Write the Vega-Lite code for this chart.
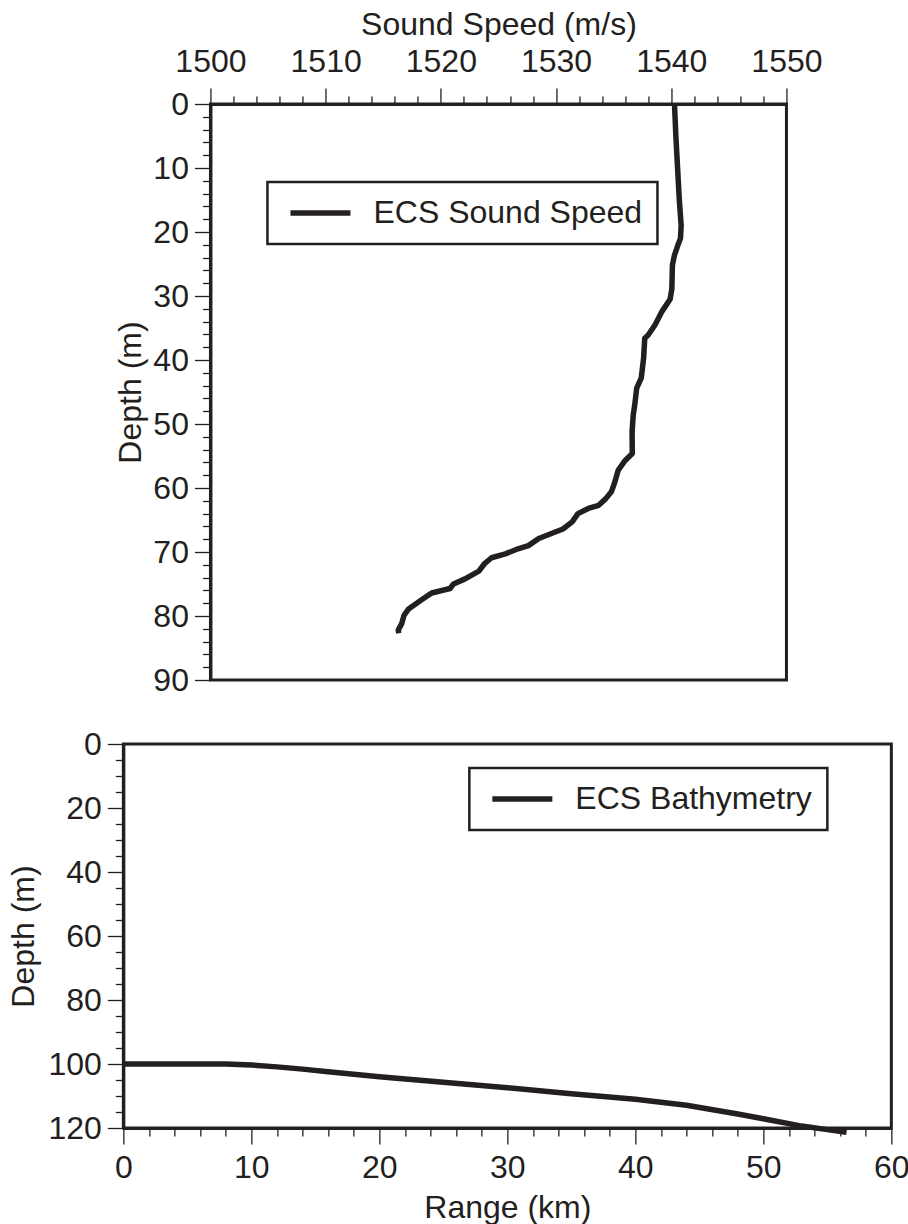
{
  "$schema": "https://vega.github.io/schema/vega-lite/v6.json",
  "padding": 0,
  "background": "white",
  "config": {
    "font": "Liberation Sans",
    "view": {"stroke": "#231f20", "strokeWidth": 3},
    "axis": {
      "labelFont": "Liberation Sans",
      "titleFont": "Liberation Sans",
      "labelFontSize": 32,
      "titleFontSize": 32,
      "titleFontWeight": "normal",
      "labelColor": "#231f20",
      "titleColor": "#231f20",
      "domainColor": "#231f20",
      "domainWidth": 3,
      "tickColor": "#231f20",
      "tickWidth": 1.3,
      "grid": false,
      "labelOverlap": false,
      "labelFlush": false,
      "labelBound": false,
      "format": "d"
    },
    "legend": {
      "title": null,
      "orient": "none",
      "symbolType": "M-3,0H3",
      "symbolSize": 400,
      "symbolStrokeWidth": 5.5,
      "labelFont": "Liberation Sans",
      "labelFontSize": 32,
      "labelColor": "#231f20",
      "labelLimit": 1000,
      "labelOffset": 37,
      "padding": 15,
      "symbolOffset": 22,
      "strokeColor": "#231f20",
      "strokeWidth": 2.5,
      "fillColor": "white"
    }
  },
  "vconcat": [
    {
      "width": 576,
      "height": 576,
      "data": {"values": [
        {"depth": 0, "speed": 1540.28, "series": "ECS Sound Speed"},
        {"depth": 5, "speed": 1540.4, "series": "ECS Sound Speed"},
        {"depth": 10, "speed": 1540.55, "series": "ECS Sound Speed"},
        {"depth": 15, "speed": 1540.7, "series": "ECS Sound Speed"},
        {"depth": 19, "speed": 1540.86, "series": "ECS Sound Speed"},
        {"depth": 21.0, "speed": 1540.8, "series": "ECS Sound Speed"},
        {"depth": 22.2, "speed": 1540.55, "series": "ECS Sound Speed"},
        {"depth": 23.6, "speed": 1540.28, "series": "ECS Sound Speed"},
        {"depth": 25.2, "speed": 1540.1, "series": "ECS Sound Speed"},
        {"depth": 28.9, "speed": 1540.05, "series": "ECS Sound Speed"},
        {"depth": 30.5, "speed": 1539.9, "series": "ECS Sound Speed"},
        {"depth": 32.4, "speed": 1539.2, "series": "ECS Sound Speed"},
        {"depth": 34.5, "speed": 1538.6, "series": "ECS Sound Speed"},
        {"depth": 36.1, "speed": 1538.0, "series": "ECS Sound Speed"},
        {"depth": 36.6, "speed": 1537.7, "series": "ECS Sound Speed"},
        {"depth": 39.7, "speed": 1537.6, "series": "ECS Sound Speed"},
        {"depth": 42.8, "speed": 1537.4, "series": "ECS Sound Speed"},
        {"depth": 44.4, "speed": 1537.0, "series": "ECS Sound Speed"},
        {"depth": 46.6, "speed": 1536.86, "series": "ECS Sound Speed"},
        {"depth": 48.6, "speed": 1536.7, "series": "ECS Sound Speed"},
        {"depth": 51.25, "speed": 1536.6, "series": "ECS Sound Speed"},
        {"depth": 54.6, "speed": 1536.62, "series": "ECS Sound Speed"},
        {"depth": 55.7, "speed": 1536.0, "series": "ECS Sound Speed"},
        {"depth": 57.2, "speed": 1535.4, "series": "ECS Sound Speed"},
        {"depth": 59.1, "speed": 1535.1, "series": "ECS Sound Speed"},
        {"depth": 60.6, "speed": 1534.8, "series": "ECS Sound Speed"},
        {"depth": 61.7, "speed": 1534.3, "series": "ECS Sound Speed"},
        {"depth": 62.7, "speed": 1533.7, "series": "ECS Sound Speed"},
        {"depth": 63.2, "speed": 1532.8, "series": "ECS Sound Speed"},
        {"depth": 64.0, "speed": 1531.9, "series": "ECS Sound Speed"},
        {"depth": 65.3, "speed": 1531.4, "series": "ECS Sound Speed"},
        {"depth": 66.4, "speed": 1530.6, "series": "ECS Sound Speed"},
        {"depth": 67.1, "speed": 1529.6, "series": "ECS Sound Speed"},
        {"depth": 67.9, "speed": 1528.5, "series": "ECS Sound Speed"},
        {"depth": 69.0, "speed": 1527.6, "series": "ECS Sound Speed"},
        {"depth": 69.5, "speed": 1526.7, "series": "ECS Sound Speed"},
        {"depth": 70.3, "speed": 1525.6, "series": "ECS Sound Speed"},
        {"depth": 70.9, "speed": 1524.4, "series": "ECS Sound Speed"},
        {"depth": 71.8, "speed": 1523.8, "series": "ECS Sound Speed"},
        {"depth": 73.0, "speed": 1523.3, "series": "ECS Sound Speed"},
        {"depth": 74.2, "speed": 1522.1, "series": "ECS Sound Speed"},
        {"depth": 75.0, "speed": 1521.1, "series": "ECS Sound Speed"},
        {"depth": 75.7, "speed": 1520.8, "series": "ECS Sound Speed"},
        {"depth": 76.4, "speed": 1519.2, "series": "ECS Sound Speed"},
        {"depth": 77.5, "speed": 1518.3, "series": "ECS Sound Speed"},
        {"depth": 78.9, "speed": 1517.2, "series": "ECS Sound Speed"},
        {"depth": 79.9, "speed": 1516.8, "series": "ECS Sound Speed"},
        {"depth": 81.2, "speed": 1516.6, "series": "ECS Sound Speed"},
        {"depth": 82.2, "speed": 1516.3, "series": "ECS Sound Speed"},
        {"depth": 82.7, "speed": 1516.35, "series": "ECS Sound Speed"}
      ]},
      "mark": {"type": "line", "strokeWidth": 5.5, "strokeJoin": "round"},
      "encoding": {
        "x": {
          "field": "speed", "type": "quantitative",
          "scale": {"domain": [1500, 1550], "nice": false, "zero": false},
          "axis": {
            "orient": "top",
            "title": "Sound Speed (m/s)",
            "values": [1500,1502,1504,1506,1508,1510,1512,1514,1516,1518,1520,1522,1524,1526,1528,1530,1532,1534,1536,1538,1540,1542,1544,1546,1548,1550],
            "labelExpr": "datum.value % 10 === 0 ? datum.label : ''",
            "tickSize": {"condition": {"test": "datum.value % 10 === 0", "value": 16}, "value": 8},
            "labelPadding": 10,
            "titleX": 288,
            "titleY": -70,
            "titleAlign": "center",
            "titleBaseline": "alphabetic",
            "minExtent": 102,
            "maxExtent": 102
          }
        },
        "y": {
          "field": "depth", "type": "quantitative",
          "scale": {"domain": [0, 90], "reverse": true, "nice": false, "zero": false},
          "axis": {
            "title": "Depth (m)",
            "values": [0,2,4,6,8,10,12,14,16,18,20,22,24,26,28,30,32,34,36,38,40,42,44,46,48,50,52,54,56,58,60,62,64,66,68,70,72,74,76,78,80,82,84,86,88,90],
            "labelExpr": "datum.value % 10 === 0 ? datum.label : ''",
            "tickSize": {"condition": {"test": "datum.value % 10 === 0", "value": 16}, "value": 8},
            "labelPadding": 6,
            "titleX": -70,
            "titleY": 288,
            "titleAngle": 270,
            "titleAlign": "center",
            "titleBaseline": "alphabetic",
            "minExtent": 113,
            "maxExtent": 113
          }
        },
        "color": {
          "field": "series", "type": "nominal",
          "scale": {"range": ["#231f20"]},
          "legend": {"legendX": 57, "legendY": 78}
        },
        "order": {"field": "depth", "type": "quantitative"}
      }
    },
    {
      "width": 768,
      "height": 384,
      "data": {"values": [
        {"range": 0, "depth": 100, "series": "ECS Bathymetry"},
        {"range": 4, "depth": 100, "series": "ECS Bathymetry"},
        {"range": 8, "depth": 100, "series": "ECS Bathymetry"},
        {"range": 10, "depth": 100.3, "series": "ECS Bathymetry"},
        {"range": 12, "depth": 100.9, "series": "ECS Bathymetry"},
        {"range": 14, "depth": 101.6, "series": "ECS Bathymetry"},
        {"range": 16, "depth": 102.4, "series": "ECS Bathymetry"},
        {"range": 18, "depth": 103.2, "series": "ECS Bathymetry"},
        {"range": 20, "depth": 104.0, "series": "ECS Bathymetry"},
        {"range": 25, "depth": 105.7, "series": "ECS Bathymetry"},
        {"range": 30, "depth": 107.4, "series": "ECS Bathymetry"},
        {"range": 35, "depth": 109.3, "series": "ECS Bathymetry"},
        {"range": 40, "depth": 111.0, "series": "ECS Bathymetry"},
        {"range": 44, "depth": 112.9, "series": "ECS Bathymetry"},
        {"range": 48, "depth": 115.6, "series": "ECS Bathymetry"},
        {"range": 50, "depth": 117.1, "series": "ECS Bathymetry"},
        {"range": 53, "depth": 119.4, "series": "ECS Bathymetry"},
        {"range": 55, "depth": 120.5, "series": "ECS Bathymetry"},
        {"range": 56.5, "depth": 121.3, "series": "ECS Bathymetry"}
      ]},
      "mark": {"type": "line", "strokeWidth": 5.5, "strokeJoin": "round"},
      "encoding": {
        "x": {
          "field": "range", "type": "quantitative",
          "scale": {"domain": [0, 60], "nice": false, "zero": false},
          "axis": {
            "title": "Range (km)",
            "values": [0,2,4,6,8,10,12,14,16,18,20,22,24,26,28,30,32,34,36,38,40,42,44,46,48,50,52,54,56,58,60],
            "labelExpr": "datum.value % 10 === 0 ? datum.label : ''",
            "tickSize": {"condition": {"test": "datum.value % 10 === 0", "value": 16}, "value": 8},
            "labelPadding": 8,
            "titleX": 384,
            "titleY": 89,
            "titleAlign": "center",
            "titleBaseline": "alphabetic"
          }
        },
        "y": {
          "field": "depth", "type": "quantitative",
          "scale": {"domain": [0, 120], "reverse": true, "nice": false, "zero": false},
          "axis": {
            "title": "Depth (m)",
            "values": [0,5,10,15,20,25,30,35,40,45,50,55,60,65,70,75,80,85,90,95,100,105,110,115,120],
            "labelExpr": "datum.value % 20 === 0 ? datum.label : ''",
            "tickSize": {"condition": {"test": "datum.value % 20 === 0", "value": 16}, "value": 8},
            "labelPadding": 6,
            "titleX": -90,
            "titleY": 192,
            "titleAngle": 270,
            "titleAlign": "center",
            "titleBaseline": "alphabetic",
            "minExtent": 121,
            "maxExtent": 121
          }
        },
        "color": {
          "field": "series", "type": "nominal",
          "scale": {"range": ["#231f20"]},
          "legend": {"legendX": 346, "legendY": 24}
        },
        "order": {"field": "range", "type": "quantitative"}
      }
    }
  ],
  "center": true,
  "spacing": 28,
  "resolve": {"scale": {"color": "independent"}, "legend": {"color": "independent"}}
}
